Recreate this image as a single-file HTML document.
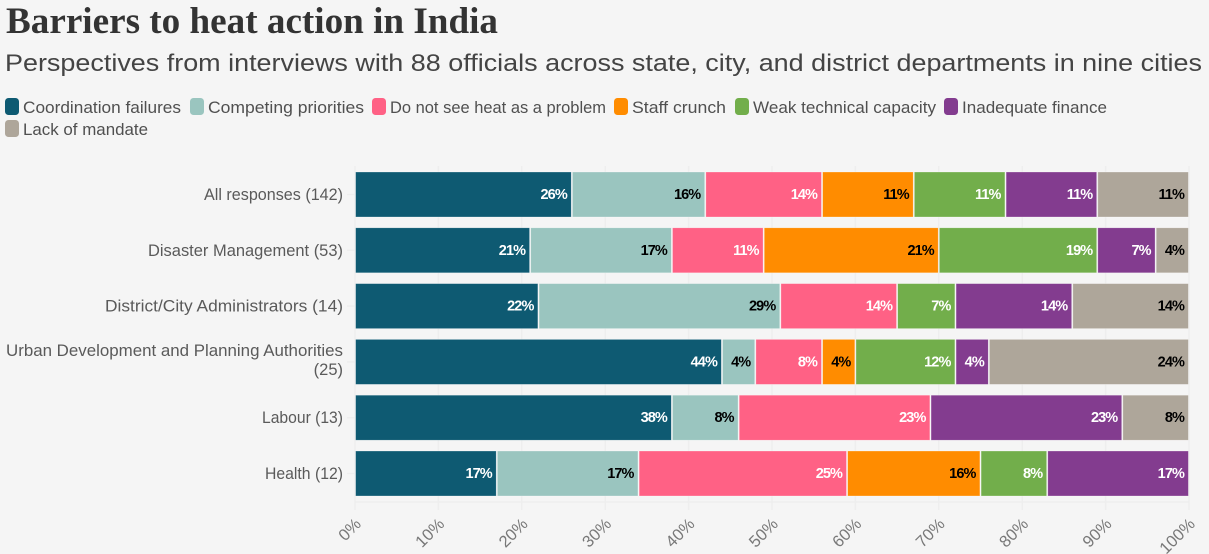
<!DOCTYPE html>
<html lang="en">
<head>
<meta charset="utf-8">
<title>Barriers to heat action in India</title>
<style>
html,body{margin:0;padding:0;background:#f5f5f5;}
body{width:1209px;height:554px;overflow:hidden;position:relative;font-family:"Liberation Sans",sans-serif;}
svg{position:absolute;left:0;top:0;display:block;}
</style>
</head>
<body>
<svg id="chart" width="1209" height="554" viewBox="0 0 1209 554" xmlns="http://www.w3.org/2000/svg">
  <text x="6" y="33" font-family="'Liberation Serif',serif" font-weight="700" font-size="37" fill="#333333" textLength="492" lengthAdjust="spacingAndGlyphs">Barriers to heat action in India</text>
  <text x="5" y="71" font-family="'Liberation Sans',sans-serif" font-size="24.5" fill="#444444" textLength="1197" lengthAdjust="spacingAndGlyphs">Perspectives from interviews with 88 officials across state, city, and district departments in nine cities</text>
  <g id="legend"></g>
  <g id="grid"></g>
  <g id="bars"></g>
  <g id="ylabels"></g>
  <g id="xlabels"></g>
</svg>
<script>
const categories = ["All responses (142)", "Disaster Management (53)", "District/City Administrators (14)", "Urban Development and Planning Authorities (25)", "Labour (13)", "Health (12)"];
const seriesNames = ["Coordination failures", "Competing priorities", "Do not see heat as a problem", "Staff crunch", "Weak technical capacity", "Inadequate finance", "Lack of mandate"];
const coordination = [26, 21, 22, 44, 38, 17];
const competing = [16, 17, 29, 4, 8, 17];
const notProblem = [14, 11, 14, 8, 23, 25];
const staffCrunch = [11, 21, 0, 4, 0, 16];
const weakCapacity = [11, 19, 7, 12, 0, 8];
const inadequateFinance = [11, 7, 14, 4, 23, 17];
const lackOfMandate = [11, 4, 14, 24, 8, 0];
const xTicks = [0, 10, 20, 30, 40, 50, 60, 70, 80, 90, 100];

const seriesValues = [coordination, competing, notProblem, staffCrunch, weakCapacity, inadequateFinance, lackOfMandate];
const seriesColors = ["#0e5a72", "#9ac5bf", "#ff6185", "#ff8c00", "#72ae4b", "#833c8f", "#aea69a"];
const labelColors = ["#ffffff", "#000000", "#ffffff", "#000000", "#ffffff", "#ffffff", "#000000"];

const NS = "http://www.w3.org/2000/svg";
const sans = "'Liberation Sans',sans-serif";
const plotLeft = 355, plotRight = 1189, plotTop = 166, plotBottom = 502;
const firstBarTop = 172, rowStep = 55.8, barHeight = 45;
const xScale = v => plotLeft + (plotRight - plotLeft) * v / 100;
const yScale = i => firstBarTop + rowStep * i;
const legendWidths = [158, 156, 216, 94, 183, 145, 125];
const categoryWidths = [139, 195, 238, 337, 81, 78];

function make(tag, attrs, parent, text) {
  const el = document.createElementNS(NS, tag);
  for (const k in attrs) el.setAttribute(k, attrs[k]);
  if (text !== undefined) el.textContent = text;
  parent.appendChild(el);
  return el;
}
function slug(s) {
  return s.toLowerCase().replace(/[^a-z0-9]+/g, "-").replace(/^-|-$/g, "");
}

/* legend */
const legendG = document.getElementById("legend");
const legendPositions = [[5, 98], [190, 98], [372, 98], [614, 98], [735, 98], [944, 98], [5, 120]];
seriesNames.forEach((name, i) => {
  const [lx, ly] = legendPositions[i];
  const g = make("g", {}, legendG);
  
  
  const sw = make("rect", {x: lx, y: ly, width: 14, height: 17, rx: 3.5, fill: seriesColors[i]}, g);
  
  
  const t = make("text", {x: lx + 18, y: ly + 15, "font-family": sans, "font-size": 16.5, fill: "#505050", textLength: legendWidths[i], lengthAdjust: "spacingAndGlyphs"}, g, name);
  
  
});

/* gridlines */
const gridG = document.getElementById("grid");
xTicks.forEach(v => {
  const line = make("line", {x1: xScale(v), x2: xScale(v), y1: plotTop, y2: plotBottom + 8, stroke: "#eeeeee", "stroke-width": 1.5}, gridG);
  
  
});
const baseline = make("line", {x1: plotLeft, x2: plotRight, y1: plotBottom, y2: plotBottom, stroke: "#eeeeee", "stroke-width": 1.5}, gridG);



/* bars */
const barsG = document.getElementById("bars");
categories.forEach((cat, r) => {
  let cum = 0;
  const y = yScale(r);
  seriesValues.forEach((vals, s) => {
    const v = vals[r];
    if (!v) return;
    const x0 = xScale(cum), x1 = xScale(cum + v);
    cum += v;
    const rect = make("rect", {x: x0 + 0.6, y: y, width: x1 - x0 - 1.2, height: barHeight, fill: seriesColors[s], stroke: "#ffffff", "stroke-opacity": 0.45, "stroke-width": 0.6}, barsG);
    
    
    const lab = make("text", {x: x1 - 5, y: y + barHeight / 2 + 4.5, "text-anchor": "end", "font-family": sans, "font-weight": 700, "font-size": 14.5, "letter-spacing": -0.9, fill: labelColors[s]}, barsG, v + "%");
    
    
  });
});

/* category labels */
const yG = document.getElementById("ylabels");
categories.forEach((cat, r) => {
  const cy = yScale(r) + barHeight / 2;
  const tick = make("line", {x1: plotLeft - 8, x2: plotLeft, y1: cy, y2: cy, stroke: "#eeeeee", "stroke-width": 1.5}, yG);
  
  
  const wrap = cat.length > 40;
  const lines = wrap ? [cat.slice(0, cat.lastIndexOf(" ")), cat.slice(cat.lastIndexOf(" ") + 1)] : [cat];
  lines.forEach((ln, k) => {
    const attrs = {x: 343, y: wrap ? cy - 6 + k * 19 : cy + 5.5, "text-anchor": "end", "font-family": sans, "font-size": 16.5, fill: "#5a5a5a"};
    if (k === 0) { attrs.textLength = categoryWidths[r]; attrs.lengthAdjust = "spacingAndGlyphs"; }
    const t = make("text", attrs, yG, ln);
    
    
  });
});

/* x ticks */
const xG = document.getElementById("xlabels");
xTicks.forEach(v => {
  const x = xScale(v);
  const t = make("text", {transform: "translate(" + (x + 7) + ",525) rotate(-45)", "text-anchor": "end", "font-family": sans, "font-size": 16.5, fill: "#787878"}, xG, v + "%");
  
  
});
</script>
</body>
</html>
